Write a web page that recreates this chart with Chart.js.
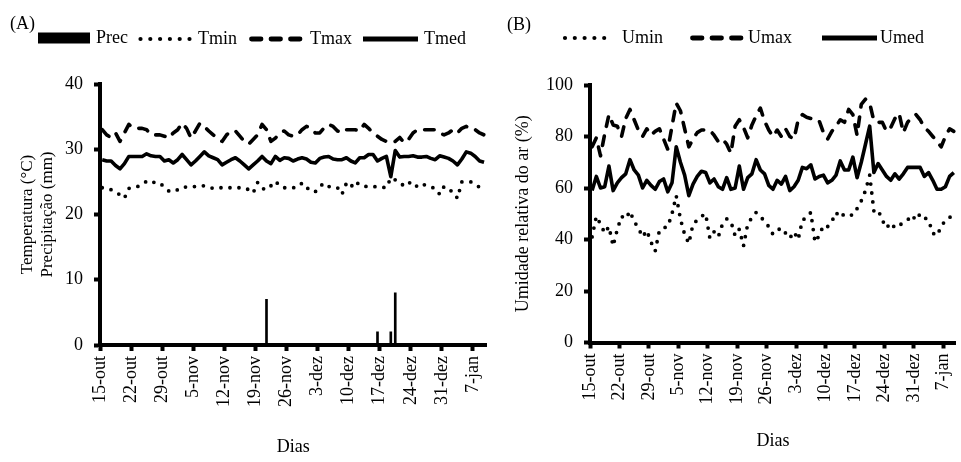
<!DOCTYPE html>
<html lang="pt">
<head>
<meta charset="utf-8">
<title>Temperatura, precipitação e umidade relativa</title>
<script src="https://cdn.jsdelivr.net/npm/chart.js@4.4.1/dist/chart.umd.min.js"></script>
<style>
  html, body { margin: 0; padding: 0; background: #fff; overflow: hidden; }
  #wrap { position: relative; width: 961px; height: 462px; overflow: hidden; }
  #chartA { position: absolute; left: 0; top: 0; }
  #chartB { position: absolute; left: 500px; top: 0; }
</style>
</head>
<body>
<div id="wrap">
  <canvas id="chartA" width="500" height="462"></canvas>
  <canvas id="chartB" width="470" height="462"></canvas>
</div>
<script>
// dia 0 = 15-out ... dia 86 = 9-jan
const tickLabels = ['15-out', '22-out', '29-out', '5-nov', '12-nov', '19-nov', '26-nov',
                    '3-dez', '10-dez', '17-dez', '24-dez', '31-dez', '7-jan'];

// (A) precipitação (mm) e temperaturas (°C)
const prec = [0, 0, 0, 0, 0, 0, 0, 0, 0, 0,
              0, 0, 0, 0, 0, 0, 0, 0, 0, 0,
              0, 0, 0, 0, 0, 0, 0, 0, 0, 0,
              0, 0, 0, 0, 0, 0, 0, 7, 0, 0,
              0, 0, 0, 0, 0, 0, 0, 0, 0, 0,
              0, 0, 0, 0, 0, 0, 0, 0, 0, 0,
              0, 0, 2, 0, 0, 2, 8, 0, 0, 0,
              0, 0, 0, 0, 0, 0, 0, 0, 0, 0,
              0, 0, 0, 0, 0, 0, 0];
const tmin = [24.1, 24.0, 23.8, 23.5, 23.0, 22.5, 24.0, 24.2, 24.3, 24.6,
              25.1, 24.8, 25.0, 24.8, 24.2, 23.6, 23.5, 23.8, 24.2, 24.2,
              24.2, 24.3, 24.4, 24.4, 24.2, 24.0, 24.1, 24.1, 24.1, 24.1,
              24.1, 24.1, 24.1, 23.8, 23.3, 24.9, 24.0, 23.8, 24.4, 25.1,
              24.4, 24.1, 24.1, 24.1, 24.2, 24.8, 24.0, 24.0, 23.5, 24.3,
              24.8, 24.3, 24.1, 24.1, 23.1, 24.8, 24.2, 25.1, 24.5, 24.3,
              24.3, 24.3, 24.2, 24.2, 24.1, 25.6, 25.3, 25.0, 24.3, 24.8,
              25.0, 24.2, 24.6, 24.5, 24.2, 24.0, 23.1, 24.3, 23.8, 23.5,
              22.5, 25.0, 25.0, 25.0, 24.5, 24.2, 24.0];
const tmax = [33.0, 32.2, 31.8, 32.5, 31.2, 32.5, 33.8, 33.2, 33.2, 33.2,
              33.0, 32.2, 32.2, 32.2, 32.0, 31.7, 32.5, 33.0, 34.0, 33.2,
              31.7, 32.8, 34.0, 33.5, 32.8, 32.2, 31.7, 31.2, 32.2, 32.8,
              32.8, 32.0, 31.2, 30.8, 31.5, 32.2, 33.8, 33.0, 31.2, 31.7,
              32.5, 32.8, 32.2, 32.0, 32.2, 33.0, 33.5, 33.2, 32.5, 32.5,
              33.3, 33.8, 33.5, 32.8, 32.5, 33.0, 33.0, 33.0, 32.8, 33.8,
              33.2, 32.5, 32.0, 31.5, 31.2, 31.0, 31.2, 31.8, 31.0, 31.5,
              32.5, 33.0, 33.0, 33.0, 33.0, 33.0, 32.5, 32.2, 32.5, 33.0,
              32.5, 33.2, 33.5, 33.0, 33.0, 32.5, 32.2];
const tmed = [28.4, 28.2, 28.2, 27.5, 27.0, 27.8, 28.9, 28.9, 28.9, 28.9,
              29.3, 29.0, 28.9, 28.9, 28.2, 28.4, 27.9, 28.4, 29.2, 28.4,
              27.6, 28.2, 28.9, 29.6, 29.0, 28.7, 28.4, 27.6, 28.0, 28.4,
              28.7, 28.2, 27.6, 27.0, 27.6, 28.2, 28.9, 28.2, 27.8, 28.9,
              28.3, 28.7, 28.6, 28.2, 28.5, 28.7, 28.5, 28.0, 27.9, 28.6,
              28.8, 28.9, 28.5, 28.4, 28.4, 28.7, 28.2, 27.9, 28.7, 28.7,
              29.2, 29.2, 28.2, 28.6, 28.9, 25.8, 29.8, 28.8, 28.9, 28.9,
              29.0, 28.8, 28.8, 28.9, 28.6, 28.4, 29.0, 28.8, 28.6, 28.2,
              27.6, 28.5, 29.6, 29.4, 28.9, 28.2, 28.0];

// (B) umidade relativa do ar (%)
const umin = [41, 49, 46, 42.5, 45, 37.5, 44, 49, 48, 51,
              47, 44.5, 41, 43.5, 39, 35.5, 43.5, 44.5, 45, 50,
              57, 48, 42, 38.5, 46, 47.5, 49, 50, 40.5, 43,
              41, 46, 48, 47, 41.5, 44, 37.5, 46, 48.5, 50.5,
              49, 47, 45, 42, 43.5, 44.5, 42.5, 40.5, 43, 40,
              47.5, 48.5, 50.5, 39, 41.5, 45.5, 45, 47, 50.5, 48.5,
              50, 49.5, 49.5, 52, 55, 59, 65, 51, 51.5, 47.5,
              44.5, 46.5, 44.5, 45.5, 46.5, 47.5, 49.5, 47.5, 50, 48.5,
              47.5, 42.5, 41.5, 45, 47.5, 48.5, 50];
const umax = [76, 79.5, 72.5, 81, 88.5, 84.5, 84, 80, 87, 90.5,
              86.5, 82.5, 80, 83, 80.5, 82, 83, 79, 75, 84,
              93, 90, 83, 76, 79, 81.5, 82.5, 82.5, 82.5, 80.5,
              78, 79, 77, 73.5, 84, 86.5, 83.5, 79.5, 84.5, 88,
              91, 86, 82.5, 80, 82.5, 80, 83, 80, 79, 86.5,
              88.5, 87.5, 87, 87, 86, 81.5, 79, 82, 84, 86.5,
              85.5, 90.5, 88.5, 80.5, 92.5, 94.5, 93, 86, 85.5, 85.5,
              82, 83.5, 87, 89, 81.5, 85.5, 87.5, 88.5, 86.5, 83.5,
              82, 80, 78, 76, 80, 83, 82];
const umed = [59, 64.5, 60, 60.5, 68.5, 59, 62, 64, 65.5, 71,
              67, 65, 60, 63, 61, 59.5, 62.5, 63.5, 58.5, 62,
              76, 70, 65, 57, 61.5, 64.5, 66.5, 66, 62, 63.5,
              60.5, 59.5, 64, 59.5, 60, 68.5, 59.5, 64, 65.5, 71,
              67, 65.5, 61, 59.5, 63, 61.5, 64.5, 59, 60.5, 63,
              68, 67.5, 69, 63.5, 64.5, 65, 62, 63, 65, 70.5,
              67, 67, 72, 64, 70, 77, 84, 66, 69.5, 67,
              64.5, 63, 65.5, 63.5, 65.5, 68, 68, 68, 68, 64.5,
              66, 63, 59.5, 59.5, 60.5, 64.5, 66];

const FONT = "'Liberation Serif', 'Times New Roman', serif";
Chart.defaults.font.family = FONT;
Chart.defaults.font.size = 18;
Chart.defaults.color = '#000';

// cada dia fica no meio do seu intervalo
const pts = arr => arr.map((v, i) => ({ x: i + 0.5, y: v }));

const DOT = [0, 9];
const DASH = [9.5, 10];

function serie(label, arr, dash) {
    return {
        label: label,
        data: pts(arr),
        borderColor: '#000',
        borderWidth: dash === DOT ? 3.8 : 3.6,
        borderDash: dash || [],
        borderCapStyle: dash ? 'round' : 'butt',
        borderJoinStyle: 'round',
        pointRadius: 0,
        fill: false,
        tension: 0
    };
}

// legenda desenhada à mão, como no Excel
const legendaManual = {
    id: 'legendaManual',
    afterDraw(chart, args, opts) {
        const ctx = chart.ctx;
        ctx.save();
        ctx.fillStyle = '#000';
        ctx.strokeStyle = '#000';
        ctx.font = '18px ' + FONT;
        ctx.textBaseline = 'middle';
        ctx.fillText(opts.panel, opts.panelX, opts.panelY);
        opts.items.forEach(it => {
            if (it.kind === 'box') {
                ctx.fillRect(it.x1, it.y - 5.5, it.x2 - it.x1, 11);
            } else {
                ctx.beginPath();
                ctx.lineWidth = it.kind === 'dot' ? 4.2 : 4.8;
                ctx.lineCap = it.kind === 'solid' ? 'butt' : 'round';
                ctx.setLineDash(it.kind === 'dot' ? [0, 9.8] : it.kind === 'dash' ? DASH : []);
                ctx.moveTo(it.x1, it.y);
                ctx.lineTo(it.x2, it.y);
                ctx.stroke();
                ctx.setLineDash([]);
            }
            ctx.fillText(it.label, it.tx, it.y);
        });
        ctx.restore();
    }
};

function eixoX(altura, tituloPad) {
    return {
        type: 'linear',
        min: 0,
        max: 87,
        offset: false,
        afterFit: s => { s.height = altura; },
        grid: { drawOnChartArea: false, drawTicks: true, tickLength: 6, tickWidth: 4, tickColor: '#000', offset: false },
        border: { display: true, color: '#000', width: 4 },
        ticks: {
            stepSize: 7,
            autoSkip: false,
            includeBounds: false,
            maxRotation: 90,
            minRotation: 90,
            padding: 5,
            font: { size: 18 },
            callback: v => tickLabels[Math.round(v / 7)] || ''
        },
        title: { display: true, text: 'Dias', font: { size: 18 }, padding: { top: 0, bottom: tituloPad } }
    };
}

function eixoY(max, passo, largura, titulo) {
    return {
        min: 0,
        max: max,
        afterFit: s => { s.width = largura; },
        grid: { drawOnChartArea: false, drawTicks: true, tickLength: 6, tickWidth: 4, tickColor: '#000' },
        border: { display: true, color: '#000', width: 4 },
        ticks: { stepSize: passo, padding: 11, font: { size: 18 } },
        title: titulo
    };
}

const comum = {
    responsive: false,
    maintainAspectRatio: false,
    animation: false,
    events: []
};

// Gráfico (A)
new Chart(document.getElementById('chartA'), {
    type: 'line',
    data: {
        datasets: [
            { type: 'bar', label: 'Prec', data: pts(prec), backgroundColor: '#000', borderWidth: 0, barThickness: 2 },
            serie('Tmin', tmin, DOT),
            serie('Tmax', tmax, DASH),
            serie('Tmed', tmed)
        ]
    },
    options: {
        ...comum,
        layout: { padding: { left: 0, right: 13, top: 84, bottom: 0 } },
        scales: {
            x: eixoX(117, 4),
            y: eixoY(40, 10, 100, {
                display: true,
                text: ['Temperatura (°C)', 'Precipitação (mm)'],
                font: { size: 17, lineHeight: 1.15 },
                padding: { top: 18, bottom: 0 }
            })
        },
        plugins: {
            legend: { display: false },
            tooltip: { enabled: false },
            legendaManual: {
                panel: '(A)', panelX: 10, panelY: 24,
                items: [
                    { kind: 'box', x1: 38, x2: 90, y: 38, label: 'Prec', tx: 96 },
                    { kind: 'dot', x1: 140.5, x2: 190, y: 39, label: 'Tmin', tx: 198 },
                    { kind: 'dash', x1: 251.5, x2: 300, y: 39, label: 'Tmax', tx: 310 },
                    { kind: 'solid', x1: 363, x2: 418, y: 39, label: 'Tmed', tx: 424 }
                ]
            }
        }
    },
    plugins: [legendaManual]
});

// Gráfico (B)
new Chart(document.getElementById('chartB'), {
    type: 'line',
    data: {
        datasets: [
            serie('Umin', umin, DOT),
            serie('Umax', umax, DASH),
            serie('Umed', umed)
        ]
    },
    options: {
        ...comum,
        layout: { padding: { left: 0, right: 3, top: 85, bottom: 0 } },
        scales: {
            x: eixoX(119.5, 10),
            y: eixoY(100, 20, 90, {
                display: true,
                text: 'Umidade relativa do ar (%)',
                font: { size: 18 },
                padding: { top: 12, bottom: 0 }
            })
        },
        plugins: {
            legend: { display: false },
            tooltip: { enabled: false },
            legendaManual: {
                panel: '(B)', panelX: 7, panelY: 25,
                items: [
                    { kind: 'dot', x1: 65, x2: 112, y: 38, label: 'Umin', tx: 122 },
                    { kind: 'dash', x1: 192.5, x2: 241, y: 38, label: 'Umax', tx: 248 },
                    { kind: 'solid', x1: 322, x2: 377, y: 38, label: 'Umed', tx: 380 }
                ]
            }
        }
    },
    plugins: [legendaManual]
});
</script>
</body>
</html>
